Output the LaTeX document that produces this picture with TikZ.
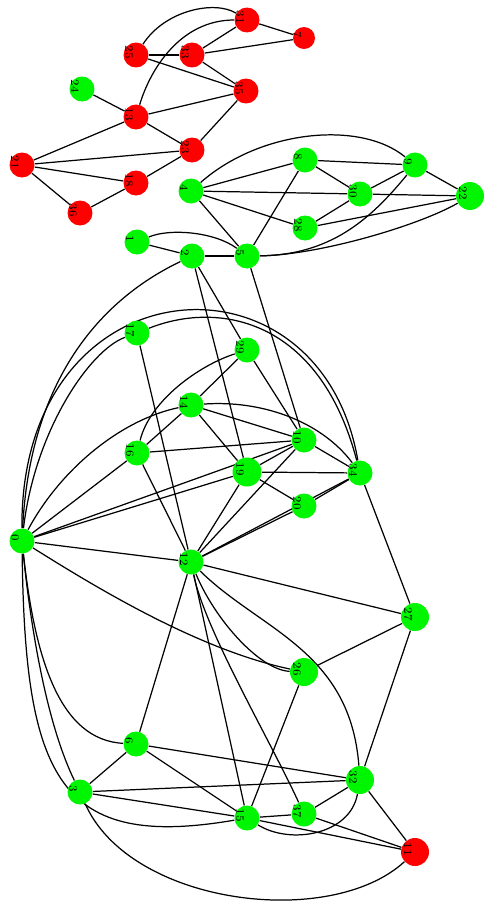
\documentclass[tikz,border=0pt]{standalone}
\definecolor{VtxRed}  {RGB}{255,0,0}
\definecolor{VtxGreen}{RGB}{0,245,0}
\usetikzlibrary{backgrounds}

\begin{document}
\begin{tikzpicture}[x=0.02cm,y=-0.02cm,
  vtx/.style={circle,inner sep=0pt,minimum size=0.5cm},
  rvtx/.style={vtx,fill=VtxRed},
  gvtx/.style={vtx,fill=VtxGreen},
  lbl/.style={shift={(-7,-3)},rotate=-90,anchor=center,inner sep=0pt,
              font=\fontsize{6.5}{6.5}\selectfont},
  edge/.style={line width=0.7pt}]
  \useasboundingbox (0,0) rectangle (486,913);
  % red group at the top
  \node[rvtx,label={[lbl]center:31}](v31) at (247,20) {};
  \node[rvtx,minimum size=0.44cm,label={[lbl]center:7}](v7) at (304,38) {};
  \node[rvtx,label={[lbl]center:25}](v25) at (136,55) {};
  \node[rvtx,label={[lbl]center:33}](v33) at (192,55) {};
  \node[rvtx,label={[lbl]center:35}](v35) at (246,91) {};
  \node[gvtx,label={[lbl]center:24}](v24) at (82,89) {};
  \node[rvtx,label={[lbl]center:13}](v13) at (136,117) {};
  \node[rvtx,label={[lbl]center:23}](v23) at (192,150) {};
  \node[rvtx,label={[lbl]center:21}](v21) at (22,165) {};
  \node[rvtx,label={[lbl]center:18}](v18) at (136,183) {};
  \node[rvtx,label={[lbl]center:36}](v36) at (80,213) {};
  % upper green group
  \node[gvtx,label={[lbl]center:4}](v4) at (191,191) {};
  \node[gvtx,label={[lbl]center:8}](v8) at (305,160) {};
  \node[gvtx,label={[lbl]center:9}](v9) at (415,165) {};
  \node[gvtx,label={[lbl]center:30}](v30) at (360,194) {};
  \node[gvtx,minimum size=0.56cm,label={[lbl]center:22}](v22) at (470,196) {};
  \node[gvtx,label={[lbl]center:28}](v28) at (305,228) {};
  \node[gvtx,label={[lbl]center:1}](v1) at (137,242) {};
  \node[gvtx,label={[lbl]center:2}](v2) at (192,256) {};
  \node[gvtx,label={[lbl]center:5}](v5) at (247,256) {};
  % lower group
  \node[gvtx,label={[lbl]center:17}](v17) at (137,333) {};
  \node[gvtx,label={[lbl]center:29}](v29) at (247,350) {};
  \node[gvtx,label={[lbl]center:14}](v14) at (191,405) {};
  \node[gvtx,label={[lbl]center:16}](v16) at (137,453) {};
  \node[gvtx,label={[lbl]center:10}](v10) at (304,440) {};
  \node[gvtx,minimum size=0.58cm,label={[lbl]center:19}](v19) at (247,472) {};
  \node[gvtx,label={[lbl]center:34}](v34) at (360,473) {};
  \node[gvtx,label={[lbl]center:20}](v20) at (304,506) {};
  \node[gvtx,label={[lbl]center:0}](v0) at (22,541) {};
  \node[gvtx,label={[lbl]center:12}](v12) at (191,562) {};
  \node[gvtx,minimum size=0.56cm,label={[lbl]center:27}](v27) at (415,617) {};
  \node[gvtx,minimum size=0.56cm,label={[lbl]center:26}](v26) at (304,672) {};
  \node[gvtx,label={[lbl]center:6}](v6) at (136,744) {};
  \node[gvtx,label={[lbl]center:3}](v3) at (80,792) {};
  \node[gvtx,minimum size=0.56cm,label={[lbl]center:32}](v32) at (360,780) {};
  \node[gvtx,label={[lbl]center:15}](v15) at (247,818) {};
  \node[gvtx,label={[lbl]center:37}](v37) at (304,814) {};
  \node[rvtx,minimum size=0.56cm,label={[lbl]center:11}](v11) at (415,852) {};

  \begin{pgfonlayer}{background}
  % red group
  \draw[edge](v25)--(v33);  \draw[edge](v33)--(v31);  \draw[edge](v33)--(v7);
  \draw[edge](v31)--(v7);   \draw[edge](v25)--(v35);  \draw[edge](v33)--(v35);
  \draw[edge](v13)--(v35);  \draw[edge](v24)--(v13);  \draw[edge](v13)--(v21);
  \draw[edge](v13)--(v23);  \draw[edge](v35)--(v23);  \draw[edge](v21)--(v23);
  \draw[edge](v21)--(v18);  \draw[edge](v21)--(v36);  \draw[edge](v36)--(v18);
  \draw[edge](v18)--(v23);
  \draw[edge](v25) .. controls (165,10) and (215,0) .. (v31);
  \draw[edge](v13) .. controls (150,70) and (180,20) .. (v31);
  % upper green group
  \draw[edge](v4)--(v30);   \draw[edge](v30)--(v22);  \draw[edge](v4)--(v8);
  \draw[edge](v4)--(v28);   \draw[edge](v4)--(v5);    \draw[edge](v8)--(v9);
  \draw[edge](v8)--(v30);   \draw[edge](v8)--(v5);    \draw[edge](v9)--(v30);
  \draw[edge](v9)--(v22);   \draw[edge](v30)--(v28);  \draw[edge](v28)--(v22);
  \draw[edge](v1)--(v2);    \draw[edge](v2)--(v5);
  \draw[edge](v4) .. controls (260,130) and (360,120) .. (v9);
  \draw[edge](v5) .. controls (330,255) and (370,220) .. (v9);
  \draw[edge](v5) .. controls (320,255) and (420,225) .. (v22);
  \draw[edge](v1) .. controls (170,228) and (215,232) .. (v5);
  % between the groups
  \draw[edge](v2)--(v19);   \draw[edge](v2)--(v29);   \draw[edge](v5)--(v10);
  \draw[edge](v29)--(v10);
  \draw[edge](v0) .. controls (30,380) and (100,300) .. (v2);
  % lower group
  \draw[edge](v0) .. controls (20,260) and (320,240) .. (v34);
  \draw[edge](v17) .. controls (220,300) and (320,320) .. (v34);
  \draw[edge](v0) .. controls (35,430) and (90,350) .. (v17);
  \draw[edge](v0) .. controls (60,470) and (120,420) .. (v14);
  \draw[edge](v0)--(v16);   \draw[edge](v0)--(v19);   \draw[edge](v0)--(v10);
  \draw[edge](v0)--(v12);
  \draw[edge](v0) .. controls (100,590) and (200,650) .. (v26);
  \draw[edge](v0) .. controls (35,660) and (60,740) .. (v6);
  \draw[edge](v0) .. controls (30,620) and (45,720) .. (v3);
  \draw[edge](v0) .. controls (25,780) and (60,850) .. (v15);
  \draw[edge](v17)--(v12);  \draw[edge](v16)--(v12);  \draw[edge](v12)--(v19);
  \draw[edge](v12)--(v10);  \draw[edge](v12)--(v20);  \draw[edge](v12)--(v34);
  \draw[edge](v12)--(v27);  \draw[edge](v12)--(v15);  \draw[edge](v12)--(v6);
  \draw[edge](v12) .. controls (215,620) and (260,670) .. (v26);
  \draw[edge](v12) .. controls (260,630) and (350,650) .. (v32);
  \draw[edge](v12) .. controls (205,630) and (270,740) .. (v37);
  \draw[edge](v14)--(v29);  \draw[edge](v14)--(v16);  \draw[edge](v14)--(v10);
  \draw[edge](v14)--(v19);
  \draw[edge](v14) .. controls (260,400) and (320,420) .. (v34);
  \draw[edge](v16)--(v10);
  \draw[edge](v29) .. controls (200,365) and (150,400) .. (v16);
  \draw[edge](v19)--(v34);  \draw[edge](v19)--(v20);  \draw[edge](v20)--(v34);
  \draw[edge](v10)--(v34);  \draw[edge](v10)--(v19);
  \draw[edge](v34)--(v27);  \draw[edge](v27)--(v26);  \draw[edge](v27)--(v32);
  \draw[edge](v32)--(v6);   \draw[edge](v32)--(v3);   \draw[edge](v32)--(v37);
  \draw[edge](v32)--(v11);
  \draw[edge](v15) .. controls (290,845) and (350,835) .. (v32);
  \draw[edge](v6)--(v3);    \draw[edge](v6)--(v15);   \draw[edge](v3)--(v15);
  \draw[edge](v3) .. controls (130,905) and (330,930) .. (v11);
  \draw[edge](v15)--(v37);  \draw[edge](v15)--(v11);  \draw[edge](v37)--(v11);
  \draw[edge](v26)--(v15);
  \end{pgfonlayer}
\end{tikzpicture}
\end{document}
